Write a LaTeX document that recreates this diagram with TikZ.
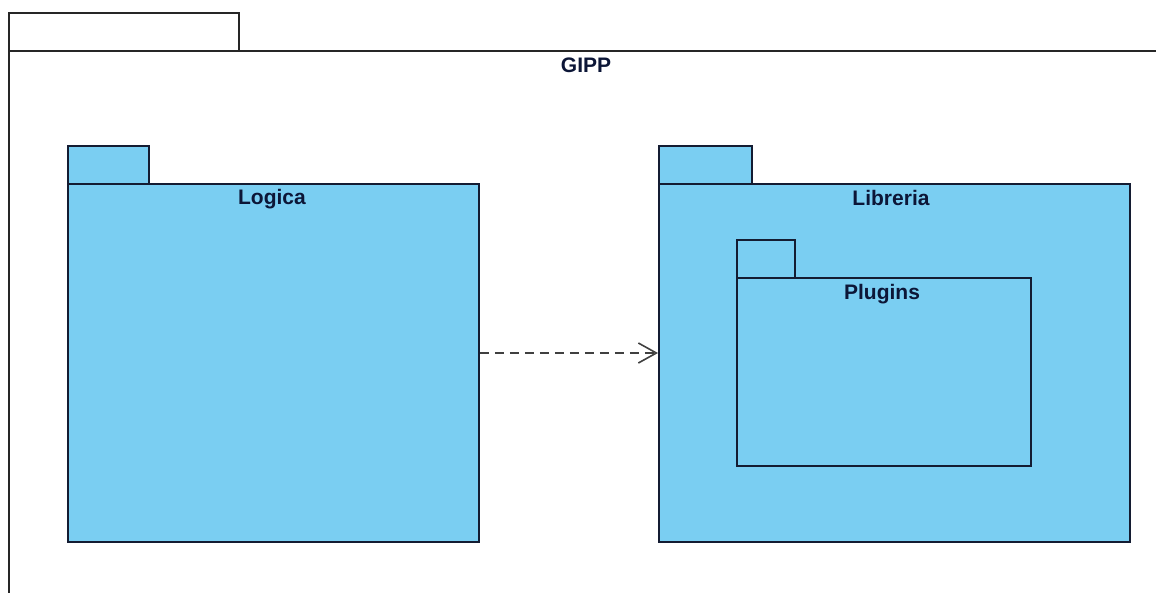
\documentclass[tikz,border=0pt]{standalone}
\usepackage{fontspec}
\setmainfont{Liberation Sans}
\usetikzlibrary{arrows.meta}
\definecolor{pkgblue}{RGB}{122,206,242}
\definecolor{pkgline}{RGB}{20,28,50}
\definecolor{pkgtext}{RGB}{12,22,55}
\begin{document}
\begin{tikzpicture}[x=1pt,y=-1pt,
  pkgpart/.style={draw=pkgline, line width=1.9pt, fill=pkgblue, rectangle,
    inner sep=0pt, anchor=north west},
  outerpart/.style={draw=black!85, line width=1.9pt, rectangle,
    inner sep=0pt, anchor=north west},
  pkglabel/.style={font=\fontsize{21}{24}\selectfont\bfseries, text=pkgtext,
    anchor=base, inner sep=0pt},
  dep/.style={draw=black!75, line width=1.6pt, dash pattern=on 9pt off 6pt,
    -{Straight Barb[length=18pt,width=20pt,line width=1.6pt]}}
]
\useasboundingbox (0,0) rectangle (1156,592);
\fill[white] (0,0) rectangle (1156,592);
\clip (0,0) rectangle (1156,592);

% enclosing package GIPP (body runs past the page edges)
\node[outerpart, minimum width=230, minimum height=38] (gipptab) at (8,12) {};
\node[outerpart, minimum width=1156, minimum height=580] (gipp) at (8,50) {};
\node[pkglabel] (gipplabel) at (586,72) {GIPP};

% package Logica
\node[pkgpart, minimum width=81, minimum height=38] (logicatab) at (67,145) {};
\node[pkgpart, minimum width=411, minimum height=358] (logica) at (67,183) {};
\node[pkglabel] (logicalabel) at (272,204) {Logica};

% package Libreria
\node[pkgpart, minimum width=93, minimum height=38] (libreriatab) at (658,145) {};
\node[pkgpart, minimum width=471, minimum height=358] (libreria) at (658,183) {};
\node[pkglabel] (libreria label) at (891,205) {Libreria};

% nested package Plugins
\node[pkgpart, minimum width=58, minimum height=38] (pluginstab) at (736,239) {};
\node[pkgpart, minimum width=294, minimum height=188] (plugins) at (736,277) {};
\node[pkglabel] (pluginslabel) at (882,299) {Plugins};

% dependency Logica -> Libreria
\coordinate (deprow) at (0,353);
\draw[dep] (logica.east |- deprow) -- (libreria.west |- deprow);
\end{tikzpicture}
\end{document}
